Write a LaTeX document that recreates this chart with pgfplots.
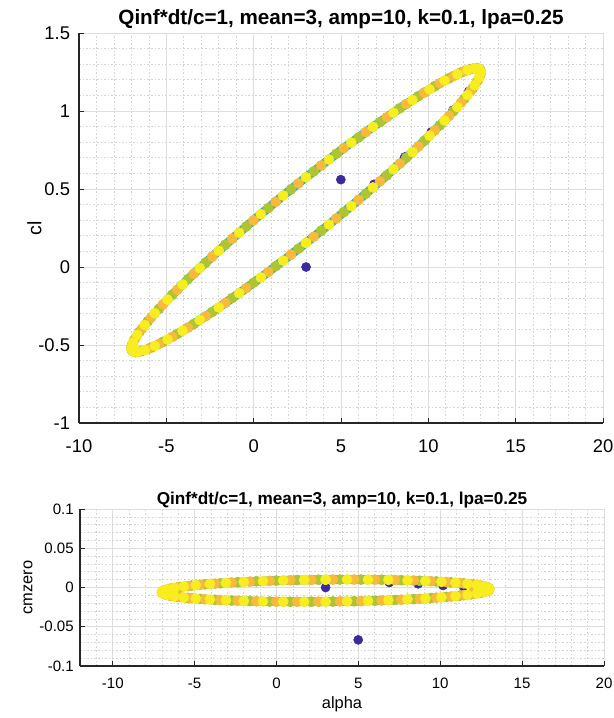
\documentclass[border=0pt]{standalone}
\usepackage{pgfplots}
\pgfplotsset{compat=1.18}
\usepackage{pgfplotstable}
\usepackage{fontspec}
\setmainfont{Liberation Sans}

\definecolor{pblue}{rgb}{0.24,0.16,0.62}
\definecolor{pyel}{rgb}{0.97,0.93,0.12}
\definecolor{pora}{rgb}{0.97,0.73,0.23}
\definecolor{pgrn}{rgb}{0.68,0.77,0.20}
\definecolor{pteal}{rgb}{0.22,0.70,0.60}
\definecolor{axline}{rgb}{0.15,0.15,0.15}

% periodic (converged) cycle: alpha, cl, cmzero, colour group
\pgfplotstableread{
a cl cm g
3.00 0.155 0.0100 0
3.44 0.194 0.0101 1
3.87 0.233 0.0101 2
4.31 0.272 0.0102 0
4.74 0.312 0.0101 1
5.16 0.352 0.0101 2
5.59 0.391 0.0100 0
6.01 0.431 0.0100 1
6.42 0.470 0.0099 2
6.83 0.510 0.0097 0
7.23 0.549 0.0095 1
7.62 0.587 0.0093 2
8.00 0.626 0.0091 0
8.37 0.663 0.0089 1
8.74 0.701 0.0086 2
9.09 0.737 0.0083 0
9.43 0.773 0.0080 1
9.76 0.808 0.0077 2
10.07 0.842 0.0073 0
10.37 0.876 0.0070 1
10.66 0.908 0.0065 2
10.93 0.939 0.0061 0
11.19 0.969 0.0056 1
11.43 0.999 0.0052 2
11.66 1.026 0.0047 0
11.87 1.053 0.0043 1
12.06 1.078 0.0037 2
12.24 1.102 0.0032 0
12.40 1.125 0.0027 1
12.54 1.146 0.0021 2
12.66 1.165 0.0015 0
12.76 1.184 0.0010 1
12.85 1.200 0.0004 2
12.91 1.215 -0.0002 0
12.96 1.228 -0.0008 1
12.99 1.240 -0.0014 2
13.00 1.250 -0.0020 0
12.99 1.258 -0.0026 1
12.96 1.265 -0.0032 2
12.91 1.270 -0.0038 0
12.85 1.273 -0.0044 1
12.76 1.275 -0.0050 2
12.66 1.274 -0.0057 0
12.54 1.272 -0.0063 1
12.40 1.268 -0.0069 2
12.24 1.263 -0.0076 0
12.06 1.256 -0.0081 1
11.87 1.247 -0.0087 2
11.66 1.236 -0.0093 0
11.43 1.224 -0.0098 1
11.19 1.210 -0.0104 2
10.93 1.195 -0.0109 0
10.66 1.178 -0.0115 1
10.37 1.159 -0.0120 2
10.07 1.139 -0.0125 0
9.76 1.118 -0.0129 1
9.43 1.095 -0.0134 2
9.09 1.070 -0.0139 0
8.74 1.045 -0.0144 1
8.37 1.018 -0.0147 2
8.00 0.989 -0.0151 0
7.62 0.960 -0.0155 1
7.23 0.929 -0.0159 2
6.83 0.898 -0.0161 0
6.42 0.865 -0.0165 1
6.01 0.831 -0.0168 2
5.59 0.797 -0.0170 0
5.16 0.762 -0.0173 1
4.74 0.726 -0.0175 2
4.31 0.689 -0.0176 0
3.87 0.651 -0.0177 1
3.44 0.613 -0.0179 2
3.00 0.575 -0.0180 0
2.56 0.536 -0.0181 1
2.13 0.497 -0.0181 2
1.69 0.458 -0.0182 0
1.26 0.418 -0.0181 1
0.84 0.378 -0.0181 2
0.41 0.339 -0.0180 0
-0.01 0.299 -0.0180 1
-0.42 0.260 -0.0179 2
-0.83 0.220 -0.0177 0
-1.23 0.181 -0.0175 1
-1.62 0.143 -0.0173 2
-2.00 0.104 -0.0171 0
-2.37 0.067 -0.0169 1
-2.74 0.029 -0.0166 2
-3.09 -0.007 -0.0163 0
-3.43 -0.043 -0.0160 1
-3.76 -0.078 -0.0157 2
-4.07 -0.112 -0.0153 0
-4.37 -0.146 -0.0150 1
-4.66 -0.178 -0.0145 2
-4.93 -0.209 -0.0141 0
-5.19 -0.239 -0.0136 1
-5.43 -0.269 -0.0132 2
-5.66 -0.296 -0.0127 0
-5.87 -0.323 -0.0123 1
-6.06 -0.348 -0.0117 2
-6.24 -0.372 -0.0112 0
-6.40 -0.395 -0.0107 1
-6.54 -0.416 -0.0101 2
-6.66 -0.435 -0.0095 0
-6.76 -0.454 -0.0090 1
-6.85 -0.470 -0.0084 2
-6.91 -0.485 -0.0078 0
-6.96 -0.498 -0.0072 1
-6.99 -0.510 -0.0066 2
-7.00 -0.520 -0.0060 0
-6.99 -0.528 -0.0054 1
-6.96 -0.535 -0.0048 2
-6.91 -0.540 -0.0042 0
-6.85 -0.543 -0.0036 1
-6.76 -0.545 -0.0030 2
-6.66 -0.544 -0.0023 0
-6.54 -0.542 -0.0017 1
-6.40 -0.538 -0.0011 2
-6.24 -0.533 -0.0004 0
-6.06 -0.526 0.0001 1
-5.87 -0.517 0.0007 2
-5.66 -0.506 0.0013 0
-5.43 -0.494 0.0018 1
-5.19 -0.480 0.0024 2
-4.93 -0.465 0.0029 0
-4.66 -0.448 0.0035 1
-4.37 -0.429 0.0040 2
-4.07 -0.409 0.0045 0
-3.76 -0.388 0.0049 1
-3.43 -0.365 0.0054 2
-3.09 -0.340 0.0059 0
-2.74 -0.315 0.0064 1
-2.37 -0.288 0.0067 2
-2.00 -0.259 0.0071 0
-1.62 -0.230 0.0075 1
-1.23 -0.199 0.0079 2
-0.83 -0.168 0.0081 0
-0.42 -0.135 0.0085 1
-0.01 -0.101 0.0088 2
0.41 -0.067 0.0090 0
0.84 -0.032 0.0093 1
1.26 0.005 0.0095 2
1.69 0.041 0.0096 0
2.13 0.079 0.0097 1
2.56 0.117 0.0099 2
3.00 0.155 0.0100 0
}\cycledata

% first time steps (start-up transient)
\pgfplotstableread{
a cl cm
3.00 0.000 0.0000
4.99 0.560 -0.0667
6.89 0.530 0.0064
8.65 0.705 0.0047
10.17 0.865 0.0026
11.41 1.005 0.0013
12.32 1.126 0.0004
}\startdata

\pgfplotsset{
  matlab/.style={
    scale only axis,
    axis x line*=bottom, axis y line*=left,
    axis line style={draw=axline, line width=0.8pt},
    tick align=inside,
    major tick length=3.5pt, minor tick length=0pt,
    tick style={draw=axline, line width=0.6pt},
    grid=both,
    major grid style={draw=black!13, line width=0.6pt},
    minor grid style={draw=black!17, line width=0.5pt, dash pattern=on 1.2pt off 1.5pt},
    scaled ticks=false,
    /pgf/number format/assume math mode=true,
    yticklabel style={/pgf/number format/fixed, /pgf/number format/precision=3},
  },
  ring/.style={only marks, mark=*, mark size=3.8pt, color=#1, mark options={draw=none, fill=#1}},
  band/.style={no marks, line width=6.6pt, color=pteal, line join=round},
}

\begin{document}
\begin{tikzpicture}
\path[use as bounding box] (0,0) rectangle (460.5pt,-538.5pt);

% lift coefficient
\begin{axis}[matlab,
  at={(59.25pt,-317.25pt)}, anchor=south west,
  width=393pt, height=292.5pt,
  xmin=-10, xmax=20, ymin=-1, ymax=1.5,
  xtick={-10,-5,0,5,10,15,20}, ytick={-1,-0.5,0,0.5,1,1.5},
  minor xtick={-10,...,20}, minor ytick={-1,-0.9,...,1.5},
  tick label style={font=\fontsize{13.8}{16}\selectfont},
  xticklabel style={anchor=base, yshift=-22.3pt},
  yticklabel style={anchor=east, inner sep=0pt, xshift=-6.5pt},
  ylabel={cl},
  ylabel style={font=\fontsize{14.6}{17}\selectfont, at={(axis description cs:-0.085,0.5)}, anchor=center},
  title={Qinf*dt/c=1, mean=3, amp=10, k=0.1, lpa=0.25},
  title style={font=\bfseries\fontsize{15.5}{18}\selectfont, at={(axis description cs:0.5,1)}, anchor=base, yshift=0.5pt},
]
\addplot[only marks, mark=*, mark size=3.4pt, color=pblue, mark options={draw=none, fill=pblue}] table[x=a, y=cl] {\startdata};
\addplot[band] table[x=a, y=cl] {\cycledata};
\addplot[ring=pgrn, restrict expr to domain={\thisrow{g}}{2:2}] table[x=a, y=cl] {\cycledata};
\addplot[ring=pora, restrict expr to domain={\thisrow{g}}{1:1}] table[x=a, y=cl] {\cycledata};
\addplot[ring=pyel, restrict expr to domain={\thisrow{g}}{0:0}] table[x=a, y=cl] {\cycledata};
\end{axis}

% zero-lift moment coefficient
\begin{axis}[matlab,
  at={(60pt,-499.5pt)}, anchor=south west,
  width=393pt, height=117.75pt,
  xmin=-12, xmax=20, ymin=-0.1, ymax=0.1,
  xtick={-10,-5,0,5,10,15,20}, ytick={-0.1,-0.05,0,0.05,0.1},
  minor xtick={-12,...,20}, minor ytick={-0.1,-0.09,...,0.1},
  tick label style={font=\fontsize{11.3}{13}\selectfont},
  xticklabel style={anchor=base, yshift=-16.7pt},
  yticklabel style={anchor=east, inner sep=0pt, xshift=-4.5pt},
  xlabel={alpha}, ylabel={cmzero},
  xlabel style={font=\fontsize{12.3}{14}\selectfont, at={(axis description cs:0.5,-0.242)}, anchor=center},
  ylabel style={font=\fontsize{12.3}{14}\selectfont, at={(axis description cs:-0.099,0.5)}, anchor=center},
  title={Qinf*dt/c=1, mean=3, amp=10, k=0.1, lpa=0.25},
  title style={font=\bfseries\fontsize{12.9}{15}\selectfont, at={(axis description cs:0.5,1)}, anchor=base, yshift=-2.8pt},
]
\addplot[only marks, mark=*, mark size=3.4pt, color=pblue, mark options={draw=none, fill=pblue}] table[x=a, y=cm] {\startdata};
\addplot[band] table[x=a, y=cm] {\cycledata};
\addplot[ring=pgrn, restrict expr to domain={\thisrow{g}}{2:2}] table[x=a, y=cm] {\cycledata};
\addplot[ring=pora, restrict expr to domain={\thisrow{g}}{1:1}] table[x=a, y=cm] {\cycledata};
\addplot[ring=pyel, restrict expr to domain={\thisrow{g}}{0:0}] table[x=a, y=cm] {\cycledata};
\end{axis}
\end{tikzpicture}
\end{document}
